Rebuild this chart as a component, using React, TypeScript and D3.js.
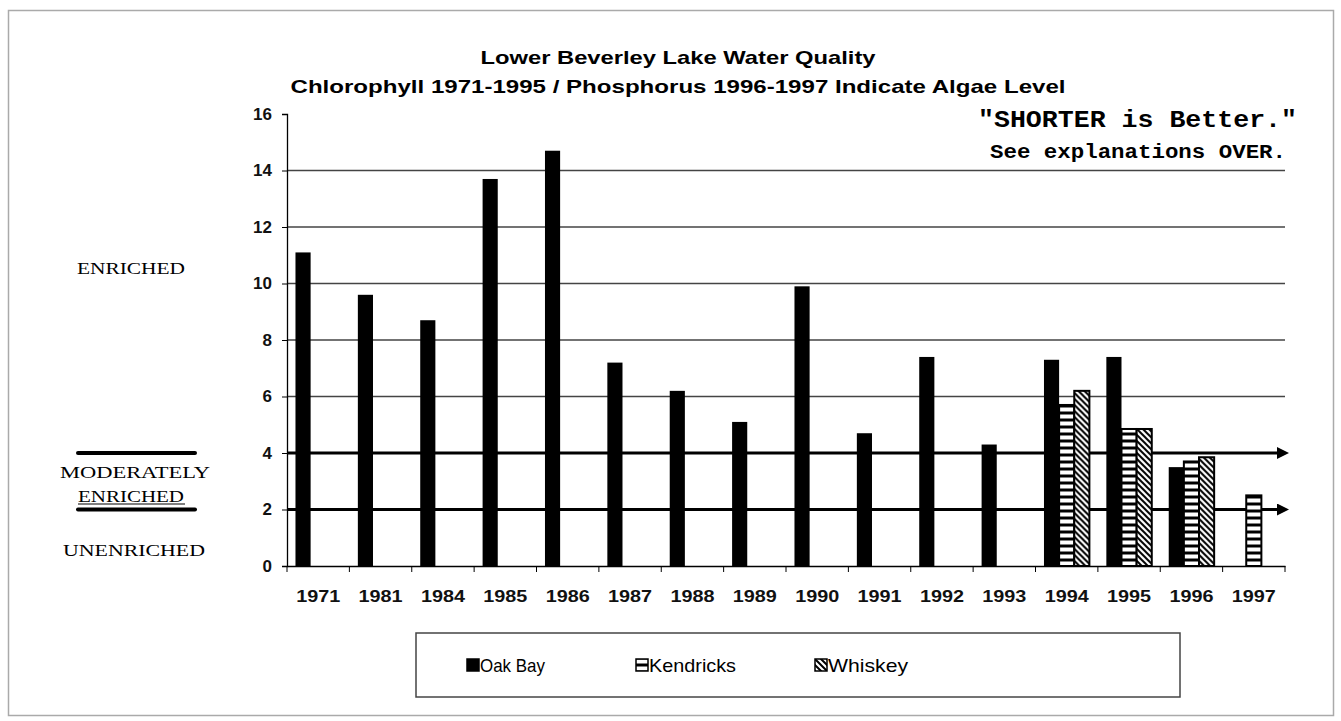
import React, { useEffect, useRef } from "react";
import * as d3 from "d3";

const years = ["1971", "1981", "1984", "1985", "1986", "1987", "1988", "1989", "1990", "1991", "1992", "1993", "1994", "1995", "1996", "1997"];
const oakBay = [11.1, 9.6, 8.7, 13.7, 14.7, 7.2, 6.2, 5.1, 9.9, 4.7, 7.4, 4.3, 7.3, 7.4, 3.5, null];
const kendricks = [null, null, null, null, null, null, null, null, null, null, null, null, 5.7, 4.85, 3.7, 2.5];
const whiskey = [null, null, null, null, null, null, null, null, null, null, null, null, 6.2, 4.85, 3.85, null];
const seriesNames = ["Oak Bay", "Kendricks", "Whiskey"];
const yTicks = [0, 2, 4, 6, 8, 10, 12, 14, 16];

const fills: Record<string, string> = {
  "Oak Bay": "#000",
  Kendricks: "url(#pat_kend)",
  Whiskey: "url(#pat_whis)",
};

export default function App() {
  const ref = useRef<SVGSVGElement>(null);

  useEffect(() => {
    const svg = d3.select(ref.current);
    svg.selectAll("*").remove();

    const left = 287, right = 1285, top = 114, bottom = 566;
    const font = "'Liberation Sans', Arial, sans-serif";
    const mono = "'Liberation Mono', 'Courier New', monospace";

    // patterns
    const defs = svg.append("defs");
    const pk = defs.append("pattern").attr("id", "pat_kend").attr("patternUnits", "userSpaceOnUse")
      .attr("width", 4).attr("height", 7);
    pk.append("rect").attr("width", 4).attr("height", 7).attr("fill", "#000");
    pk.append("rect").attr("y", 1.5).attr("width", 4).attr("height", 4).attr("fill", "#fff");

    const pw = defs.append("pattern").attr("id", "pat_whis").attr("patternUnits", "userSpaceOnUse")
      .attr("width", 6).attr("height", 6);
    pw.append("rect").attr("width", 6).attr("height", 6).attr("fill", "#fff");
    pw.append("path").attr("d", "M-1,-1 L7,7 M-1,5 L1,7 M5,-1 L7,1").attr("stroke", "#000").attr("stroke-width", 2);

    defs.append("marker").attr("id", "arrow").attr("viewBox", "0 0 10 10").attr("refX", 5).attr("refY", 5)
      .attr("markerWidth", 4).attr("markerHeight", 4).attr("orient", "auto")
      .append("path").attr("d", "M0,0 L10,5 L0,10 z").attr("fill", "#000");

    // outer frame
    svg.append("rect").attr("x", 8.5).attr("y", 10.5).attr("width", 1325).attr("height", 705)
      .attr("fill", "#fff").attr("stroke", "#aaa").attr("stroke-width", 1.5);

    const x0 = d3.scaleBand().domain(years).range([left, right]).paddingInner(0).paddingOuter(0);
    const x1 = d3.scaleBand().domain(seriesNames).range([0, x0.bandwidth()]).paddingInner(0).paddingOuter(0.56);
    const y = d3.scaleLinear().domain([0, 16]).range([bottom, top]);

    // gridlines
    svg.append("g").selectAll("line").data(yTicks.filter((t) => t > 4 && t < 16)).join("line")
      .attr("x1", left).attr("x2", right).attr("y1", (d) => y(d)).attr("y2", (d) => y(d))
      .attr("stroke", "#444").attr("stroke-width", 1.3);

    // category threshold lines
    svg.append("g").selectAll("line").data([2, 4]).join("line")
      .attr("x1", left).attr("x2", right - 2).attr("y1", (d) => y(d)).attr("y2", (d) => y(d))
      .attr("stroke", "#000").attr("stroke-width", 3).attr("marker-end", "url(#arrow)");
    svg.append("g").selectAll("line").data([2, 4]).join("line")
      .attr("x1", 78).attr("x2", 195).attr("y1", (d) => y(d)).attr("y2", (d) => y(d))
      .attr("stroke", "#000").attr("stroke-width", 4).attr("stroke-linecap", "round");

    // bars
    const rows = years.map((yr, i) => ({ yr, vals: [oakBay[i], kendricks[i], whiskey[i]] }));
    svg.append("g").selectAll("g").data(rows).join("g")
      .attr("transform", (d) => `translate(${x0(d.yr)},0)`)
      .selectAll("rect")
      .data((d) => d.vals.map((v, j) => ({ s: seriesNames[j], v })).filter((e) => e.v != null))
      .join("rect")
      .attr("x", (d) => x1(d.s)!)
      .attr("y", (d) => y(d.v as number))
      .attr("width", x1.bandwidth())
      .attr("height", (d) => bottom - y(d.v as number))
      .attr("fill", (d) => fills[d.s])
      .attr("stroke", "#000")
      .attr("stroke-width", (d) => (d.s === "Oak Bay" ? 0 : 2));

    // y axis
    const yAxis = svg.append("g").attr("transform", `translate(${left},0)`)
      .call(d3.axisLeft(y).tickValues(yTicks).tickSize(5).tickPadding(10));
    yAxis.select(".domain").attr("stroke", "#000").attr("stroke-width", 1.3);
    yAxis.selectAll("line").attr("stroke", "#000");
    yAxis.selectAll("text").attr("font-family", font).attr("font-size", 17).attr("font-weight", "bold").attr("fill", "#111");

    // x axis
    const xAxis = svg.append("g").attr("transform", `translate(0,${bottom})`)
      .call(d3.axisBottom(x0).tickSize(0).tickPadding(25));
    xAxis.select(".domain").attr("stroke", "#000").attr("stroke-width", 1.3);
    xAxis.selectAll("text").attr("font-family", font)
      .attr("font-size", 16).attr("font-weight", "bold").attr("fill", "#111")
      .attr("textLength", 44).attr("lengthAdjust", "spacingAndGlyphs");
    svg.append("g").selectAll("line").data(years.concat(["end"])).join("line")
      .attr("x1", (d, i) => left + i * x0.step()).attr("x2", (d, i) => left + i * x0.step())
      .attr("y1", bottom).attr("y2", bottom + 6).attr("stroke", "#000");

    // titles
    svg.append("text").attr("x", 678).attr("y", 64).attr("text-anchor", "middle")
      .attr("font-family", font).attr("font-size", 19).attr("font-weight", "bold")
      .attr("textLength", 395).attr("lengthAdjust", "spacingAndGlyphs")
      .text("Lower Beverley Lake Water Quality");
    svg.append("text").attr("x", 678).attr("y", 93).attr("text-anchor", "middle")
      .attr("font-family", font).attr("font-size", 19).attr("font-weight", "bold")
      .attr("textLength", 775).attr("lengthAdjust", "spacingAndGlyphs")
      .text("Chlorophyll 1971-1995 / Phosphorus 1996-1997 Indicate Algae Level");

    // note
    svg.append("text").attr("x", 1297).attr("y", 127).attr("text-anchor", "end")
      .attr("font-family", mono).attr("font-size", 23).attr("font-weight", "bold")
      .attr("textLength", 319).attr("lengthAdjust", "spacingAndGlyphs")
      .text('"SHORTER is Better."');
    svg.append("text").attr("x", 1286).attr("y", 158).attr("text-anchor", "end")
      .attr("font-family", mono).attr("font-size", 20).attr("font-weight", "bold")
      .attr("textLength", 296).attr("lengthAdjust", "spacingAndGlyphs")
      .text("See explanations OVER.");

    // category labels
    const serif = "'Liberation Serif', 'Times New Roman', serif";
    const catLabels = [
      { t: "ENRICHED", x: 131, yy: 274, w: 108 },
      { t: "MODERATELY", x: 135, yy: 478, w: 150 },
      { t: "ENRICHED", x: 131, yy: 502, w: 106 },
      { t: "UNENRICHED", x: 134, yy: 556, w: 142 },
    ];
    svg.append("g").selectAll("text").data(catLabels).join("text")
      .attr("x", (d) => d.x).attr("y", (d) => d.yy).attr("text-anchor", "middle")
      .attr("font-family", serif).attr("font-size", 16)
      .attr("textLength", (d) => d.w).attr("lengthAdjust", "spacingAndGlyphs")
      .text((d) => d.t);
    svg.append("line").attr("x1", 78).attr("x2", 185).attr("y1", 504).attr("y2", 504).attr("stroke", "#000").attr("stroke-width", 1.2);

    // legend
    svg.append("rect").attr("x", 416).attr("y", 633).attr("width", 764).attr("height", 64)
      .attr("fill", "#fff").attr("stroke", "#444").attr("stroke-width", 1.5);
    const legendX = [467, 636, 815];
    const legendW = [65, 87, 80];
    const lg = svg.append("g").selectAll("g").data(seriesNames).join("g")
      .attr("transform", (d, i) => `translate(${legendX[i]},665)`);
    lg.append("rect").attr("x", 0).attr("y", -6).attr("width", 12).attr("height", 12)
      .attr("fill", (d) => fills[d]).attr("stroke", "#000").attr("stroke-width", 1.5);
    lg.append("text").attr("x", 13).attr("y", 7).attr("font-family", font).attr("font-size", 19)
      .attr("textLength", (d, i) => legendW[i]).attr("lengthAdjust", "spacingAndGlyphs")
      .text((d) => d);
  }, []);

  return <svg ref={ref} width={1341} height={721} style={{ display: "block", position: "absolute", left: 0, top: 0 }} />;
}
